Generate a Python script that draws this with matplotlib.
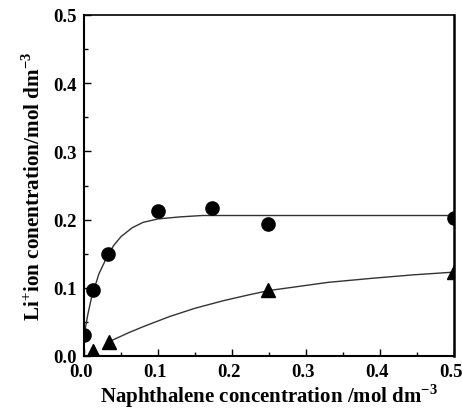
import matplotlib
matplotlib.use("Agg")
import matplotlib.pyplot as plt
from matplotlib.ticker import MultipleLocator
from matplotlib.transforms import ScaledTranslation

# Data
circle_x = [0.0, 0.0125, 0.033, 0.1, 0.1725, 0.248, 0.5]
circle_y = [0.031, 0.097, 0.149, 0.213, 0.217, 0.193, 0.202]
tri_x = [0.0125, 0.034, 0.248, 0.5]
tri_y = [0.008, 0.021, 0.097, 0.123]

# fitted curves
fit1_x = [0.0, 0.005, 0.01, 0.02, 0.03, 0.04, 0.05, 0.065, 0.08, 0.1, 0.13, 0.16, 0.2, 0.3, 0.5]
fit1_y = [0.030, 0.060, 0.085, 0.120, 0.143, 0.162, 0.175, 0.188, 0.196, 0.201, 0.204, 0.206, 0.206, 0.206, 0.206]
fit2_x = [0.034, 0.06, 0.08, 0.116, 0.15, 0.188, 0.22, 0.25, 0.29, 0.33, 0.39, 0.445, 0.5]
fit2_y = [0.021, 0.034, 0.043, 0.058, 0.070, 0.081, 0.089, 0.096, 0.102, 0.108, 0.114, 0.119, 0.123]

plt.rcParams['font.family'] = ['Liberation Serif', 'DejaVu Serif']
plt.rcParams['font.weight'] = 'bold'
plt.rcParams['mathtext.fontset'] = 'custom'
plt.rcParams['mathtext.rm'] = 'Liberation Serif:bold'
plt.rcParams['mathtext.bf'] = 'Liberation Serif:bold'

fig = plt.figure(figsize=(4.62, 4.10), dpi=100)
ax = fig.add_axes([84/462, 1-357/410, 370/462, 341/410])

ax.plot(fit1_x, fit1_y, color='#333333', lw=1.0, clip_on=False, zorder=2)
ax.plot(fit2_x, fit2_y, color='#333333', lw=1.0, clip_on=False, zorder=2)
ax.plot(circle_x, circle_y, 'o', color='black', ms=9.5, clip_on=True, zorder=3)
ax.plot(tri_x, tri_y, '^', color='black', ms=10.5, clip_on=True, zorder=3)

ax.set_xlim(0, 0.5)
ax.set_ylim(0, 0.5)
ax.xaxis.set_major_locator(MultipleLocator(0.1))
ax.xaxis.set_minor_locator(MultipleLocator(0.05))
ax.yaxis.set_major_locator(MultipleLocator(0.1))
ax.yaxis.set_minor_locator(MultipleLocator(0.05))
ax.tick_params(which='both', direction='in', top=False, right=False)
ax.tick_params(which='major', length=5, width=1, labelsize=13.5, pad=5)
ax.tick_params(which='minor', length=3, width=1)
shift = ScaledTranslation(-3/100, 0, fig.dpi_scale_trans)
for lab in ax.get_xticklabels():
    lab.set_fontweight('bold')
    lab.set_transform(lab.get_transform() + shift)
for lab in ax.get_yticklabels():
    lab.set_fontweight('bold')
for s in ['left', 'bottom']:
    ax.spines[s].set_linewidth(1.5)
ax.spines['top'].set_linewidth(1.2)
ax.spines['right'].set_linewidth(1.8)

ax.set_xlabel(r'Naphthalene concentration /mol dm$^{\mathbf{-3}}$', fontsize=15, fontweight='bold', labelpad=1)
ax.set_ylabel(r'Li$^{\mathbf{+}}$ion conentration/mol dm$^{\mathbf{-3}}$', fontsize=15.2, fontweight='bold', labelpad=6)

fig.savefig('out.png', dpi=100)
